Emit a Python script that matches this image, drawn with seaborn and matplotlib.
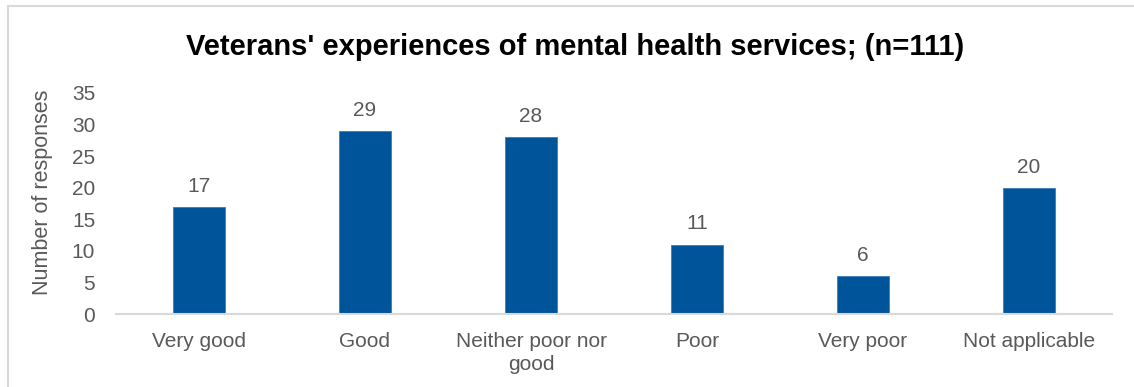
import matplotlib
matplotlib.use("Agg")
import matplotlib.pyplot as plt
from matplotlib.lines import Line2D
import seaborn as sns
import pandas as pd

categories = ["Very good", "Good", "Neither poor nor\ngood", "Poor", "Very poor", "Not applicable"]
responses = [17, 29, 28, 11, 6, 20]
y_ticks = [0, 5, 10, 15, 20, 25, 30, 35]

title = "Veterans' experiences of mental health services; (n=111)"
y_label = "Number of responses"

sns.set_theme(style="white")
plt.rcParams["font.family"] = ["Liberation Sans", "DejaVu Sans"]

BAR = "#00559A"
GREY_TEXT = "#595959"
AXIS_LINE = "#D9D9D9"

df = pd.DataFrame({"category": categories, "responses": responses})

fig = plt.figure(figsize=(11.34, 3.87), dpi=100)
ax = fig.add_axes([116 / 1134, 1 - 314 / 387, (1112 - 116) / 1134, (314 - 93) / 387])

sns.barplot(data=df, x="category", y="responses", color=BAR, width=0.31,
            saturation=1, ax=ax, edgecolor="#3A7DB8", linewidth=0.6)

ax.set_ylim(0, 35)
ax.set_yticks(y_ticks)
ax.set_xlim(-0.5, len(categories) - 0.5)
ax.set_xlabel("")
ax.set_ylabel("")

for c in ax.containers:
    ax.bar_label(c, labels=[str(v) for v in responses], padding=8,
                 fontsize=15, color=GREY_TEXT)

for s in ["top", "right", "left"]:
    ax.spines[s].set_visible(False)
ax.spines["bottom"].set_color(AXIS_LINE)
ax.spines["bottom"].set_linewidth(1.5)

ax.tick_params(axis="y", length=0, pad=15, labelsize=15, labelcolor=GREY_TEXT)
ax.tick_params(axis="x", length=0, pad=13, labelsize=15, labelcolor=GREY_TEXT)
for lbl in ax.get_xticklabels():
    lbl.set_linespacing(1.25)
    lbl.set_verticalalignment("top")

fig.text(575 / 1134, 1 - 47 / 387, title, ha="center", va="center",
         fontsize=21, fontweight="bold", color="black")
fig.text(43 / 1134, 1 - 192 / 387, y_label, ha="center", va="center",
         rotation=90, fontsize=15.5, color=GREY_TEXT)

# Chart area frame (top and left edges)
fig.add_artist(Line2D([8 / 1134, 1], [1 - 6 / 387, 1 - 6 / 387],
                      transform=fig.transFigure, color="#D9D9D9", linewidth=1.5))
fig.add_artist(Line2D([8 / 1134, 8 / 1134], [0, 1 - 6 / 387],
                      transform=fig.transFigure, color="#D9D9D9", linewidth=1.5))

fig.savefig("out.png", dpi=100, facecolor="white")
